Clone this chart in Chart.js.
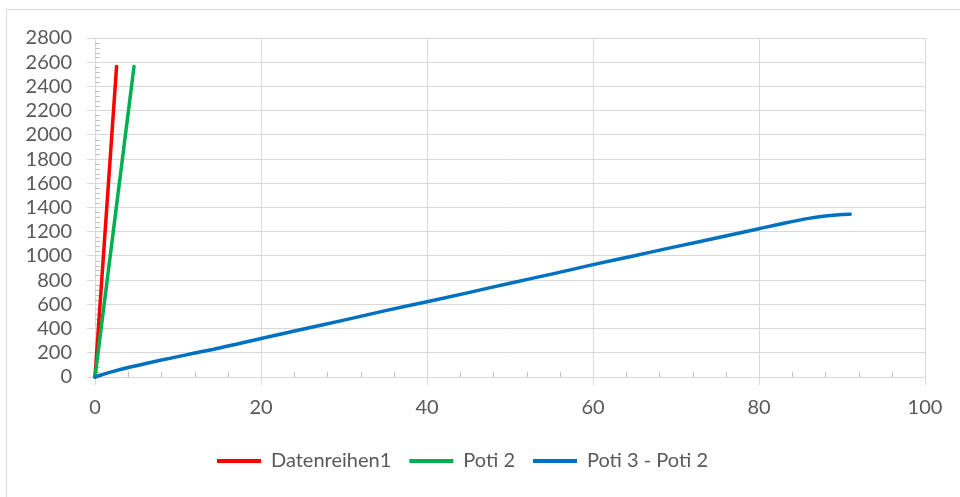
<!DOCTYPE html>
<html>
<head>
<meta charset="utf-8">
<script src="https://cdn.jsdelivr.net/npm/chart.js@4.4.1/dist/chart.umd.min.js"></script>
<style>
  html, body { margin: 0; padding: 0; background: #fff; }
  #wrap { position: relative; width: 960px; height: 497px; }
</style>
</head>
<body>
<div id="wrap"><canvas id="potiChart"></canvas></div>
<script>
// series values (x = position, y = reading)
var redX = [0, 2.6];
var redY = [0, 2565];

var greenX = [0, 4.7];
var greenY = [0, 2565];

var blueX = [0, 2, 4, 6, 8, 10, 12, 15, 20, 25, 30, 35, 40, 45, 50, 55, 60, 65, 70, 75, 80, 83, 86, 88, 90, 91];
var blueY = [0, 42, 78, 110, 140, 168, 198, 240, 318, 395, 470, 548, 622, 697, 775, 850, 928, 1002, 1077, 1150, 1225, 1270, 1310, 1330, 1342, 1345];

var seriesNames = ['Datenreihen1', 'Poti 2', 'Poti 3 - Poti 2'];
var seriesColors = ['#ff0000', '#00b050', '#0070c0'];

var xMin = 0, xMax = 100, xStep = 20, xMinorStep = 4;
var yMin = 0, yMax = 2800, yStep = 200, yMinorStep = 40;

function toPoints(xs, ys) {
    var pts = [];
    for (var i = 0; i < xs.length; i++) {
        pts.push({x: xs[i], y: ys[i]});
    }
    return pts;
}

var gridColor = '#d9d9d9';
var textColor = '#595959';

// outer frame behind everything
var framePlugin = {
    id: 'frame',
    beforeDraw: function (chart) {
        var ctx = chart.ctx;
        ctx.save();
        ctx.fillStyle = '#fff';
        ctx.fillRect(0, 0, chart.width, chart.height);
        ctx.strokeStyle = gridColor;
        ctx.lineWidth = 1;
        ctx.beginPath();
        ctx.moveTo(6.5, chart.height);
        ctx.lineTo(6.5, 9.5);
        ctx.lineTo(chart.width, 9.5);
        ctx.stroke();
        ctx.restore();
    }
};

// small inner tick marks between the labelled ticks
var minorTicks = {
    id: 'minorTicks',
    beforeDatasetsDraw: function (chart) {
        var ctx = chart.ctx;
        var xs = chart.scales.x, ys = chart.scales.y;
        var area = chart.chartArea;
        ctx.save();
        ctx.strokeStyle = '#bfbfbf';
        ctx.lineWidth = 1;
        ctx.beginPath();
        for (var v = xMin + xMinorStep; v < xMax; v += xMinorStep) {
            if (v % xStep === 0) continue;
            var px = Math.round(xs.getPixelForValue(v)) + 0.5;
            ctx.moveTo(px, area.bottom);
            ctx.lineTo(px, area.bottom - 5);
        }
        for (var w = yMin + yMinorStep; w < yMax; w += yMinorStep) {
            if (w % yStep === 0) continue;
            var py = Math.round(ys.getPixelForValue(w)) + 0.5;
            ctx.moveTo(area.left, py);
            ctx.lineTo(area.left + 5, py);
        }
        ctx.stroke();
        ctx.restore();
    }
};

var datasets = [
    {data: toPoints(redX, redY), order: 3},
    {data: toPoints(greenX, greenY), order: 2},
    {data: toPoints(blueX, blueY), order: 1}
].map(function (ds, i) {
    ds.label = seriesNames[i];
    ds.borderColor = seriesColors[i];
    ds.backgroundColor = seriesColors[i];
    ds.borderWidth = 3.5;
    ds.showLine = true;
    ds.pointRadius = 0;
    ds.pointHoverRadius = 0;
    ds.borderCapStyle = 'round';
    ds.cubicInterpolationMode = 'monotone';
    ds.clip = false;
    return ds;
});

function plainNumber(value) {
    return String(value);
}

var chart = new Chart(document.getElementById('potiChart'), {
    type: 'scatter',
    data: {datasets: datasets},
    plugins: [framePlugin, minorTicks],
    options: {
        responsive: true,
        maintainAspectRatio: false,
        animation: false,
        layout: {padding: {left: 0, right: 35, top: 38, bottom: 16}},
        scales: {
            x: {
                type: 'linear',
                min: xMin,
                max: xMax,
                ticks: {stepSize: xStep, color: textColor, padding: 11, autoSkip: false,
                        callback: plainNumber, font: {family: 'Lato', size: 20}},
                grid: {color: gridColor, tickLength: 8, tickColor: gridColor},
                border: {color: gridColor},
                afterFit: function (scale) { scale.height = 56; }
            },
            y: {
                min: yMin,
                max: yMax,
                ticks: {stepSize: yStep, color: textColor, padding: 15, autoSkip: false,
                        callback: plainNumber, font: {family: 'Lato', size: 20}},
                grid: {color: gridColor, tickLength: 8, tickColor: gridColor},
                border: {color: gridColor},
                afterFit: function (scale) { scale.width = 95; }
            }
        },
        plugins: {
            legend: {
                position: 'bottom',
                labels: {
                    color: textColor,
                    font: {family: 'Lato', size: 20},
                    boxWidth: 44,
                    boxHeight: 4,
                    padding: 18,
                    generateLabels: function (c) {
                        return c.data.datasets.map(function (ds, i) {
                            return {
                                text: ds.label,
                                fillStyle: ds.borderColor,
                                strokeStyle: ds.borderColor,
                                lineWidth: 0,
                                fontColor: textColor,
                                hidden: false,
                                datasetIndex: i
                            };
                        });
                    }
                }
            },
            tooltip: {enabled: false}
        }
    }
});
</script>
</body>
</html>
